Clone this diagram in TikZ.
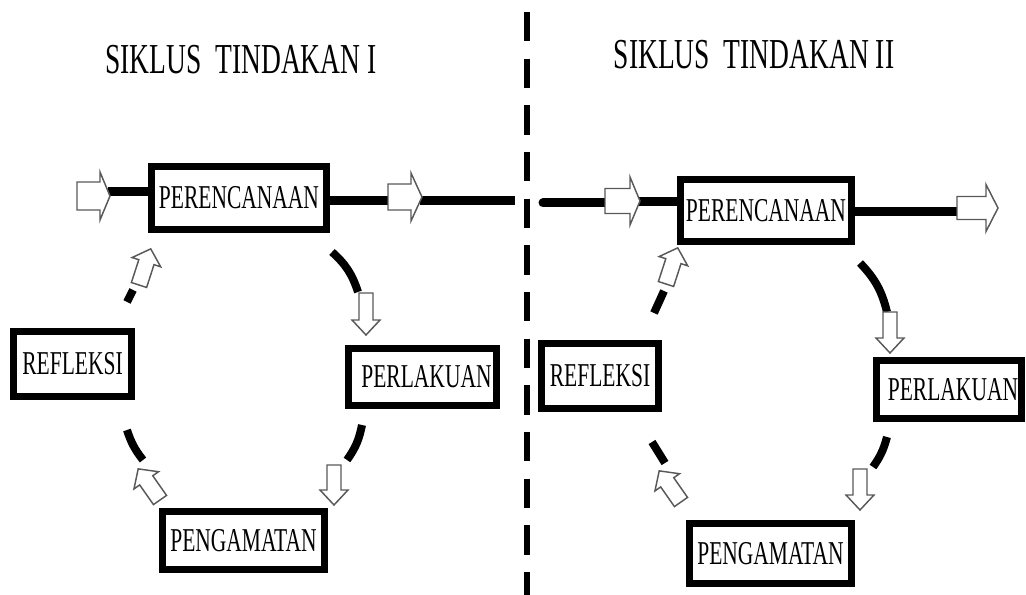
\documentclass[tikz,border=0pt]{standalone}
\usepackage{fontspec}
\setmainfont{Liberation Serif}
\newfontfamily\cond[FakeStretch=0.645]{Liberation Serif}
\begin{document}
\begin{tikzpicture}[x=0.75pt,y=-0.75pt,
  box/.style={draw, line width=5.25pt, fill=white, inner sep=0pt, font=\cond\fontsize{25}{25}\selectfont},
  conn/.style={line width=6.75pt},
  seg/.style={line width=6pt},
  titletext/.style={font=\cond\fontsize{32}{32}\selectfont, inner sep=0pt},
  arrowline/.style={draw=black!65, line width=1.1pt, fill=white, line join=miter},
  divider/.style={line width=4.8pt, dash pattern=on 22pt off 13pt},
  pics/barrow/.style n args={4}{code={
    \draw[arrowline] (0,-#2) -- ({#1-#4},-#2) -- ({#1-#4},-#3) -- (#1,0)
      -- ({#1-#4},#3) -- ({#1-#4},#2) -- (0,#2) -- cycle;}}
]
\useasboundingbox (0,0) rectangle (1026,595);

% divider
\coordinate (dtop) at (527,12);
\coordinate (dbot) at (527,595);
\draw[divider] (dtop) -- (dbot);

% titles
\node[titletext] (t1) at (241,60) {SIKLUS\ \ TINDAKAN I};
\node[titletext] (t2) at (754,55) {SIKLUS\ \ TINDAKAN II};

% ---------- left cycle ----------
\node[box, minimum width={175*0.75pt}, minimum height={63*0.75pt}] (L1) at (239,198) {PERENCANAAN};
\node[box, minimum width={148*0.75pt}, minimum height={57*0.75pt}] (L2) at (422.5,377) {\hspace{6pt}PERLAKUAN};
\node[box, minimum width={162*0.75pt}, minimum height={58*0.75pt}] (L3) at (243.5,540.5) {PENGAMATAN};
\node[box, minimum width={118*0.75pt}, minimum height={65*0.75pt}] (L4) at (72.5,364) {REFLEKSI\hspace{4pt}};

% horizontal connectors left
\coordinate (a1tip) at (108,192);
\coordinate (a2tail) at (390,201);
\coordinate (a2tip) at (420,201);
\coordinate (d1) at (515,201);
\draw[conn] (a1tip) -- (a1tip -| L1.west);
\draw[conn] (L1.east |- a2tail) -- (a2tail);
\draw[conn] (a2tip) -- (d1);
\pic at (77,196) {barrow={33}{14}{24}{10}};
\pic at (388,197) {barrow={34}{13}{24}{11}};

% arc segments left
\coordinate (la1) at (332,252); \coordinate (la2) at (358,292);
\coordinate (la3) at (362,425); \coordinate (la4) at (347,460);
\coordinate (la5) at (127,430); \coordinate (la6) at (143,460);
\coordinate (la7) at (127,302); \coordinate (la8) at (133,290);
\draw[seg] (la1) to[bend left=15] (la2);
\draw[seg] (la3) to[bend left=12] (la4);
\draw[seg] (la5) to[bend right=10] (la6);
\draw[seg] (la7) -- (la8);
\pic[rotate=-90] at (366,293) {barrow={42}{7}{14}{15}};
\pic[rotate=-90] at (334,465) {barrow={40}{7}{14}{15}};
\pic[rotate=72] at (139,285) {barrow={38}{8}{15}{14}};
\pic[rotate=125] at (160,500) {barrow={38}{8}{15}{14}};

% ---------- right cycle ----------
\node[box, minimum width={171*0.75pt}, minimum height={62*0.75pt}] (R1) at (766,210.5) {PERENCANAAN};
\node[box, minimum width={145*0.75pt}, minimum height={58*0.75pt}] (R2) at (949,389.5) {\hspace{6pt}PERLAKUAN};
\node[box, minimum width={162*0.75pt}, minimum height={60*0.75pt}] (R3) at (770.5,553.5) {PENGAMATAN};
\node[box, minimum width={117*0.75pt}, minimum height={65*0.75pt}] (R4) at (600,376) {REFLEKSI\hspace{6pt}};

\coordinate (r0) at (543,203);
\coordinate (b1tail) at (607,203);
\coordinate (b1tip) at (638,202);
\coordinate (b2tail) at (959,212);
\draw[conn, line cap=round] (r0) -- (b1tail);
\draw[conn] (b1tip) -- (b1tip -| R1.west);
\draw[conn] (R1.east |- b2tail) -- (b2tail);
\pic at (605,201) {barrow={35}{12.5}{24}{10}};
\pic at (957,208) {barrow={41}{11.5}{23.5}{12}};

\coordinate (ra1) at (860,263); \coordinate (ra2) at (887,312);
\coordinate (ra3) at (887,437); \coordinate (ra4) at (873,467);
\coordinate (ra5) at (652,442); \coordinate (ra6) at (665,463);
\coordinate (ra7) at (654,313); \coordinate (ra8) at (664,291);
\draw[seg] (ra1) to[bend left=15] (ra2);
\draw[seg] (ra3) to[bend left=10] (ra4);
\draw[seg] (ra5) -- (ra6);
\draw[seg] (ra7) -- (ra8);
\pic[rotate=-90] at (890,312) {barrow={41}{7}{14}{15}};
\pic[rotate=-90] at (860,469) {barrow={41}{7}{14}{15}};
\pic[rotate=72] at (666,284) {barrow={38}{8}{15}{14}};
\pic[rotate=125] at (681,502) {barrow={38}{8}{15}{14}};
\end{tikzpicture}
\end{document}
